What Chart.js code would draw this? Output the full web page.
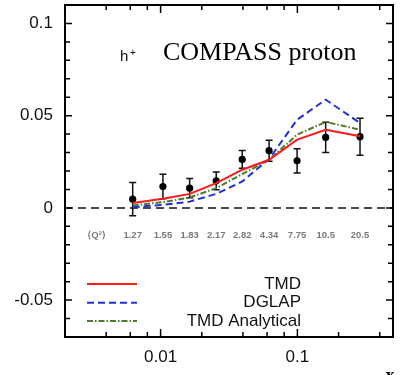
<!DOCTYPE html>
<html>
<head>
<meta charset="utf-8">
<script src="https://cdn.jsdelivr.net/npm/chart.js@4"></script>
<style>
html,body{margin:0;padding:0;background:#fff;}
#wrap{width:405px;height:375px;}
</style>
</head>
<body>
<div id="wrap"><canvas id="c" width="405" height="375"></canvas></div>
<script>
// ---- data ----
const xValues      = [0.00625, 0.0104, 0.0163, 0.0255, 0.0395, 0.0621, 0.0995, 0.161, 0.287];
const q2Labels     = ['1.27','1.55','1.83','2.17','2.82','4.34','7.75','10.5','20.5'];
const dataValues   = [0.0047, 0.0116, 0.0107, 0.0147, 0.0263, 0.0310, 0.0255, 0.0382, 0.0386];
const dataErrors   = [0.0090, 0.0066, 0.0052, 0.0048, 0.0048, 0.0057, 0.0066, 0.0082, 0.0100];
const tmdValues    = [0.0026, 0.0049, 0.0076, 0.0134, 0.0207, 0.0261, 0.0370, 0.0424, 0.0388];
const dglapValues  = [0.0004, 0.0016, 0.0034, 0.0076, 0.0143, 0.0265, 0.0478, 0.0587, 0.0460];
const analytValues = [0.0013, 0.0031, 0.0056, 0.0107, 0.0183, 0.0261, 0.0397, 0.0466, 0.0424];
const seriesNames  = ['TMD', 'DGLAP', 'TMD Analytical'];
const xTickValues  = [0.01, 0.1];
const xTickLabels  = ['0.01', '0.1'];
const xMinorTicks  = [0.002,0.004,0.006,0.008,0.02,0.04,0.06,0.08,0.2,0.4];
const yTickValues  = [-0.05, 0, 0.05, 0.1];
const yTickLabels  = ['-0.05', '0', '0.05', '0.1'];
const xMin = 0.002, xMax = 0.5, yMin = -0.07, yMax = 0.11;
const q2HeaderX = 0.0034, q2RowY = -0.0147;

const toPts = arr => arr.map((v, i) => ({x: xValues[i], y: v}));

const SANS = '"Liberation Sans", Arial, "DejaVu Sans", sans-serif';
const SERIF = '"Liberation Serif", "Times New Roman", serif';

const decor = {
  id: 'decor',
  beforeDatasetsDraw(chart) {
    const {ctx, chartArea: a, scales: {x, y}} = chart;
    ctx.save();
    const y0 = y.getPixelForValue(0);
    ctx.strokeStyle = '#111'; ctx.lineWidth = 1.5; ctx.setLineDash([8, 5]);
    ctx.beginPath(); ctx.moveTo(a.left, y0); ctx.lineTo(a.right, y0); ctx.stroke();
    ctx.setLineDash([]);
    ctx.strokeStyle = '#111'; ctx.lineWidth = 1.5;
    dataValues.forEach((v, i) => {
      const px = x.getPixelForValue(xValues[i]);
      const pt = y.getPixelForValue(v + dataErrors[i]);
      const pb = y.getPixelForValue(v - dataErrors[i]);
      ctx.beginPath();
      ctx.moveTo(px, pt); ctx.lineTo(px, pb);
      ctx.moveTo(px - 3.5, pt); ctx.lineTo(px + 3.5, pt);
      ctx.moveTo(px - 3.5, pb); ctx.lineTo(px + 3.5, pb);
      ctx.stroke();
    });
    ctx.restore();
  },
  afterDraw(chart) {
    const {ctx, chartArea: a, scales: {x, y}} = chart;
    ctx.save();
    ctx.strokeStyle = '#000'; ctx.lineWidth = 2;
    ctx.strokeRect(a.left, a.top, a.right - a.left, a.bottom - a.top);
    ctx.lineWidth = 1.5;
    const tickX = (v, len) => {
      const p = x.getPixelForValue(v);
      ctx.beginPath();
      ctx.moveTo(p, a.bottom); ctx.lineTo(p, a.bottom - len);
      ctx.moveTo(p, a.top); ctx.lineTo(p, a.top + len);
      ctx.stroke();
    };
    const tickY = (v, len) => {
      const p = y.getPixelForValue(v);
      ctx.beginPath();
      ctx.moveTo(a.left, p); ctx.lineTo(a.left + len, p);
      ctx.moveTo(a.right, p); ctx.lineTo(a.right - len, p);
      ctx.stroke();
    };
    xTickValues.forEach(v => tickX(v, 8));
    xMinorTicks.forEach(v => tickX(v, 5));
    for (let k = -6; k <= 10; k++) {
      tickY(k / 100, (k % 5 === 0) ? 7 : 5);
    }
    // Q2 labels
    ctx.fillStyle = '#7a7a7a';
    ctx.font = 'bold 9.5px ' + SANS;
    ctx.textAlign = 'center'; ctx.textBaseline = 'middle';
    const qy = y.getPixelForValue(q2RowY);
    ctx.fillText('\u27E8Q\u00B2\u27E9', x.getPixelForValue(q2HeaderX), qy);
    q2Labels.forEach((t, i) => ctx.fillText(t, x.getPixelForValue(xValues[i]), qy));
    // h+ and title
    ctx.fillStyle = '#111';
    ctx.textAlign = 'left'; ctx.textBaseline = 'alphabetic';
    ctx.font = '15px ' + SANS;
    ctx.fillText('h', 120, 61);
    ctx.font = '10px ' + SANS;
    ctx.fillText('+', 130, 56);
    ctx.fillStyle = '#000';
    ctx.font = '26px ' + SERIF;
    ctx.fillText('COMPASS proton', 163, 60);
    // legend
    const legY = [284, 302.7, 321];
    const legStyles = [
      {c: '#ff1a1a', d: []},
      {c: '#1f2fe0', d: [7, 4]},
      {c: '#4e7a2a', d: [6, 2, 1.5, 2]}
    ];
    legStyles.forEach((s, i) => {
      ctx.strokeStyle = s.c; ctx.lineWidth = 2; ctx.setLineDash(s.d);
      ctx.beginPath(); ctx.moveTo(87, legY[i]); ctx.lineTo(137, legY[i]); ctx.stroke();
    });
    ctx.setLineDash([]);
    ctx.fillStyle = '#111';
    ctx.font = '17px ' + SANS;
    ctx.textAlign = 'right'; ctx.textBaseline = 'middle';
    seriesNames.forEach((t, i) => ctx.fillText(t, 301, legY[i]));
    ctx.fillStyle = '#000';
    ctx.font = 'bold 18px ' + SERIF;
    ctx.textAlign = 'center'; ctx.textBaseline = 'top';
    ctx.fillText('x', 390, 367);
    ctx.restore();
  }
};

new Chart(document.getElementById('c'), {
  type: 'scatter',
  data: {
    datasets: [
      {label: seriesNames[0], data: toPts(tmdValues), showLine: true, borderColor: '#ff1a1a', borderWidth: 2, pointRadius: 0, fill: false},
      {label: seriesNames[1], data: toPts(dglapValues), showLine: true, borderColor: '#1f2fe0', borderWidth: 2, borderDash: [7, 4], pointRadius: 0, fill: false},
      {label: seriesNames[2], data: toPts(analytValues), showLine: true, borderColor: '#4e7a2a', borderWidth: 2, borderDash: [6, 2, 1.5, 2], pointRadius: 0, fill: false},
      {label: 'COMPASS', data: toPts(dataValues), showLine: false, pointRadius: 3.6, pointBackgroundColor: '#000', pointBorderColor: '#000', borderWidth: 0}
    ]
  },
  options: {
    responsive: false,
    animation: false,
    layout: {padding: {left: 0, right: 12, top: 5, bottom: 0}},
    plugins: {legend: {display: false}, tooltip: {enabled: false}},
    scales: {
      x: {
        type: 'logarithmic', min: xMin, max: xMax,
        grid: {display: false, drawTicks: false}, border: {display: false},
        afterBuildTicks: s => { s.ticks = xTickValues.map(v => ({value: v})); },
        afterFit: s => { s.height = 38; s.paddingLeft = 0; s.paddingRight = 0; },
        ticks: {
          autoSkip: false, maxRotation: 0, padding: 10, color: '#111',
          font: {family: SANS, size: 17},
          callback: (v) => { const i = xTickValues.indexOf(v); return i >= 0 ? xTickLabels[i] : ''; }
        }
      },
      y: {
        type: 'linear', min: yMin, max: yMax,
        grid: {display: false, drawTicks: false}, border: {display: false},
        afterBuildTicks: s => { s.ticks = yTickValues.map(v => ({value: v})); },
        afterFit: s => { s.width = 65; s.paddingTop = 0; s.paddingBottom = 0; },
        ticks: {
          autoSkip: false, padding: 12, color: '#111',
          font: {family: SANS, size: 17},
          callback: (v) => { const i = yTickValues.indexOf(v); return i >= 0 ? yTickLabels[i] : ''; }
        }
      }
    }
  },
  plugins: [decor]
});
</script>
</body>
</html>
